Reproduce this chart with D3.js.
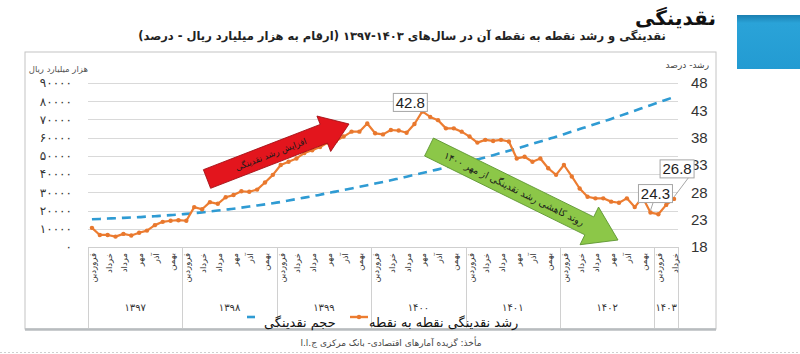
<!DOCTYPE html>
<html><head><meta charset="utf-8">
<script src="https://cdn.jsdelivr.net/npm/d3@7"></script>
<style>body{margin:0;background:#fff}svg{display:block}</style>
</head><body><svg id="c" width="800" height="354"></svg>
<script>
// ---------- DATA ----------
const monthNames = ["فروردین","اردیبهشت","خرداد","تیر","مرداد","شهریور","مهر","آبان","آذر","دی","بهمن","اسفند"];
const years = ["۱۳۹۷","۱۳۹۸","۱۳۹۹","۱۴۰۰","۱۴۰۱","۱۴۰۲","۱۴۰۳"];
const monthsPerYear = [12,12,12,12,12,12,3];
const labeledMonths = ["فروردین","خرداد","مرداد","مهر","آذر","بهمن"];
// liquidity volume (thousand billion rials), left axis
const liquidity = [
 15200,15400,15600,15800,16000,16200,16400,16700,16900,17200,17500,17800,
 18200,18600,19000,19500,20000,20500,21000,21600,22200,22800,23400,24000,
 24700,25500,26300,27100,27900,28700,29600,30400,31300,32100,33000,33900,
 34800,35700,36600,37600,38600,39600,40600,41600,42600,43700,44800,45900,
 47000,48100,49200,50400,51600,52800,54000,55300,56600,57900,59200,60500,
 61900,63300,64700,66100,67500,68900,70300,71800,73300,74800,76300,77800,
 79300,80800,82300
];
// point-to-point liquidity growth (%), right axis
const growth = [
 21.5,20.2,20.2,19.9,20.4,20.1,20.6,21.0,22.0,22.6,22.8,22.9,
 22.8,25.3,24.9,26.2,25.9,27.1,27.5,28.2,28.1,28.5,29.8,31.2,
 33.0,33.6,34.2,35.2,35.7,36.3,37.1,37.4,38.2,39.1,39.1,40.6,
 38.8,38.6,39.4,39.3,38.9,40.5,42.8,41.8,41.2,39.7,39.7,39.1,
 38.2,37.1,37.6,37.4,37.6,37.3,34.2,34.5,33.6,34.2,32.4,31.2,
 33.0,30.9,28.7,27.2,26.9,26.9,26.3,26.1,26.9,25.3,27.1,24.3,
 24.0,25.7,26.8
];
const leftTicks = [0,10000,20000,30000,40000,50000,60000,70000,80000,90000];
const rightTicks = [18,23,28,33,38,43,48];
const annotatedIndexes = [42,71,74];
const seriesNames = ["حجم نقدینگی","رشد نقدینگی نقطه به نقطه"];
const headerText = "نقدینگی";
const titleText = "نقدینگی و رشد نقطه به نقطه آن در سال‌های ۱۴۰۳-۱۳۹۷ (ارقام به هزار میلیارد ریال - درصد)";
const leftAxisTitle = "هزار میلیارد ریال";
const rightAxisTitle = "رشد- درصد";
const upArrowText = "افزایش رشد نقدینگی";
const downArrowText = "روند کاهشی رشد نقدینگی از مهر ۱۴۰۰";
const sourceText = "مأخذ: گزیده آمارهای اقتصادی- بانک مرکزی ج.ا.ا";

// ---------- BUILD ----------
const fa = s => String(s).replace(/\d/g, d => "۰۱۲۳۴۵۶۷۸۹"[+d]);
const categories = [];
years.forEach((y,k) => { for (let m=0;m<monthsPerYear[k];m++) categories.push({year:y, month:monthNames[m], i:categories.length}); });

const FA = "DejaVu Sans, sans-serif";
const LAT = "Liberation Sans, Arial, sans-serif";
const svg = d3.select("#c");
const L = 88, R = 678, T = 83, B = 247;

const x = d3.scaleBand().domain(categories.map(c=>c.i)).range([L,R]).padding(0);
const xc = i => x(i) + x.bandwidth()/2;
const yL = d3.scaleLinear().domain([0,90000]).range([B,T]);
const yR = d3.scaleLinear().domain([18,48]).range([B,T]);

// decorative header
const defs = svg.append("defs");
const bg = defs.append("linearGradient").attr("id","bg").attr("x1",0).attr("y1",0).attr("x2",0).attr("y2",1);
bg.append("stop").attr("offset","0").attr("stop-color","#1b7fb0");
bg.append("stop").attr("offset","0.15").attr("stop-color","#2aa3d8");
bg.append("stop").attr("offset","1").attr("stop-color","#239bd2");
svg.append("rect").attr("x",737).attr("y",15).attr("width",63).attr("height",54).attr("fill","url(#bg)");
svg.append("text").attr("x",716).attr("y",25).attr("text-anchor","end")
  .attr("font-family",FA).attr("font-weight","bold").attr("font-size",20).attr("fill","#111").text(headerText);

// title
svg.append("text").attr("x",402).attr("y",40).attr("text-anchor","middle")
  .attr("font-family",FA).attr("font-weight","bold").attr("font-size",11.5).attr("fill","#222").text(titleText);

// outer frame
svg.append("rect").attr("x",25).attr("y",52).attr("width",691).attr("height",277)
  .attr("fill","none").attr("stroke","#c4c4c4").attr("stroke-width",1);
svg.append("line").attr("x1",25).attr("x2",716).attr("y1",329.5).attr("y2",329.5).attr("stroke","#b8bcbf").attr("stroke-width",2.5);

// gridlines
svg.append("g").selectAll("line").data(leftTicks).join("line")
  .attr("x1",L).attr("x2",R).attr("y1",d=>Math.round(yL(d))+0.5).attr("y2",d=>Math.round(yL(d))+0.5)
  .attr("stroke","#d9d9d9").attr("stroke-width",1);

// left axis
const leftAxis = d3.axisLeft(yL).tickValues(leftTicks).tickFormat(d=>fa(d)).tickSize(0).tickPadding(0);
const gl = svg.append("g").attr("transform",`translate(72,0)`).call(leftAxis);
gl.select(".domain").remove();
gl.selectAll("text").attr("font-family",FA).attr("font-size",12).attr("fill","#333");

// right axis
const rightAxis = d3.axisRight(yR).tickValues(rightTicks).tickSize(0).tickPadding(0);
const gr = svg.append("g").attr("transform",`translate(691,0)`).call(rightAxis);
gr.select(".domain").remove();
gr.selectAll("text").attr("font-family",LAT).attr("font-size",15).attr("fill","#333");

svg.append("text").attr("x",88).attr("y",72).attr("text-anchor","end").attr("font-family",FA).attr("font-size",8.5).attr("fill","#555").text(leftAxisTitle);
svg.append("text").attr("x",709).attr("y",68).attr("text-anchor","end").attr("font-family",FA).attr("font-size",9).attr("fill","#444").text(rightAxisTitle);

// category axis
svg.append("line").attr("x1",L).attr("x2",R).attr("y1",B+0.5).attr("y2",B+0.5).attr("stroke","#cfcfcf");
const yearStarts = [];
let acc = 0;
years.forEach((y,k)=>{ yearStarts.push({year:y, start:acc, n:monthsPerYear[k]}); acc += monthsPerYear[k]; });
const sepX = yearStarts.map(d=>x(d.start)).concat([R]);
svg.append("g").selectAll("line").data(sepX).join("line")
  .attr("x1",d=>Math.round(d)+0.5).attr("x2",d=>Math.round(d)+0.5).attr("y1",B).attr("y2",328)
  .attr("stroke","#d0d0d0");
svg.append("g").selectAll("text").data(categories.filter(c=>labeledMonths.includes(c.month))).join("text")
  .attr("transform",c=>`translate(${xc(c.i)+1},${B+6}) rotate(-90)`)
  .attr("text-anchor","end").attr("dy","0.35em")
  .attr("font-family",FA).attr("font-size",8.5).attr("fill","#333").text(c=>c.month);
svg.append("g").selectAll("text").data(yearStarts).join("text")
  .attr("x",d=>(x(d.start)+x(d.start+d.n-1)+x.bandwidth())/2).attr("y",311)
  .attr("text-anchor","middle").attr("font-family",FA).attr("font-size",10).attr("fill","#333").text(d=>d.year);

// liquidity (dashed)
svg.append("path").datum(liquidity)
  .attr("d", d3.line().x((d,i)=>xc(i)).y(d=>yL(d)).curve(d3.curveMonotoneX))
  .attr("fill","none").attr("stroke","#2f9bd3").attr("stroke-width",2.6).attr("stroke-dasharray","9,6");

// growth line
svg.append("path").datum(growth)
  .attr("d", d3.line().x((d,i)=>xc(i)).y(d=>yR(d)))
  .attr("fill","none").attr("stroke","#ed7d31").attr("stroke-width",2.2).attr("stroke-linejoin","round");
svg.append("g").selectAll("circle").data(growth).join("circle")
  .attr("cx",(d,i)=>xc(i)).attr("cy",d=>yR(d)).attr("r",2.2).attr("fill","#e8782e");

// arrows
function arrow(x0,y0,x1,y1,bh,hh,hl,fill,stroke,label,fs){
  const ang = Math.atan2(y1-y0,x1-x0)*180/Math.PI;
  const len = Math.hypot(x1-x0,y1-y0);
  const g = svg.append("g").attr("transform",`translate(${x0},${y0}) rotate(${ang})`);
  g.append("path").attr("d",`M0,${-bh}L${len-hl},${-bh}L${len-hl},${-hh}L${len},0L${len-hl},${hh}L${len-hl},${bh}L0,${bh}Z`)
    .attr("fill",fill).attr("stroke",stroke).attr("stroke-width",0.8);
  g.append("text").attr("x",len*0.45).attr("y",0).attr("dy","0.35em").attr("text-anchor","middle")
    .attr("font-family",FA).attr("font-size",fs).attr("fill","#1a1a1a").text(label);
}
arrow(207,179,349,124,10,19,27,"#e3151d","#a30f14",upArrowText,8.5);
arrow(429,147,618,240,10,21,32,"#8cc748","#5c9430",downArrowText,9.5);

// data labels
const annoOffsets = {42:[-12,-9], 71:[5,-19], 74:[3,-30]};
annotatedIndexes.forEach(i=>{
  const px = xc(i), py = yR(growth[i]);
  const [dx,dy] = annoOffsets[i];
  const cx = px+dx, cy = py+dy;
  const g = svg.append("g");
  if (i!==42) g.append("line").attr("x1",cx-(i===74?-12:2)).attr("y1",cy+8).attr("x2",px).attr("y2",py-2).attr("stroke","#a6a6a6");
  g.append("rect").attr("x",cx-17).attr("y",cy-9).attr("width",34).attr("height",18).attr("fill","#fff").attr("stroke","#a6a6a6");
  g.append("text").attr("x",cx).attr("y",cy).attr("dy","0.36em").attr("text-anchor","middle")
    .attr("font-family",LAT).attr("font-size",15).attr("fill","#222").text(growth[i].toFixed(1));
});

// legend
svg.append("line").attr("x1",247).attr("x2",255).attr("y1",317).attr("y2",317).attr("stroke","#2f9bd3").attr("stroke-width",2.6);
svg.append("text").attr("x",264).attr("y",327).attr("font-family",FA).attr("font-size",13).attr("fill","#111").text(seriesNames[0]);
svg.append("line").attr("x1",350).attr("x2",368).attr("y1",317).attr("y2",317).attr("stroke","#ed7d31").attr("stroke-width",2.4);
svg.append("circle").attr("cx",359).attr("cy",317).attr("r",2.2).attr("fill","#e8782e");
svg.append("text").attr("x",369).attr("y",327).attr("font-family",FA).attr("font-size",13).attr("fill","#111").text(seriesNames[1]);

// source
svg.append("text").attr("x",391).attr("y",346).attr("text-anchor","middle").attr("font-family",FA).attr("font-size",9).attr("fill","#444").text(sourceText);
svg.append("line").attr("x1",0).attr("x2",800).attr("y1",352.5).attr("y2",352.5).attr("stroke","#cfcfcf").attr("stroke-dasharray","2,2");
</script></body></html>
